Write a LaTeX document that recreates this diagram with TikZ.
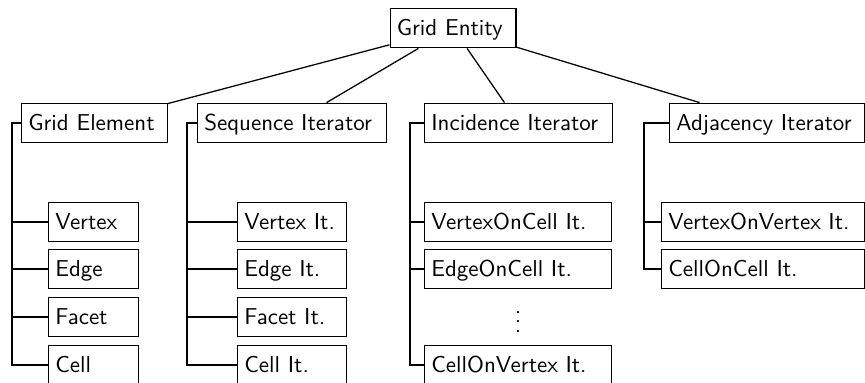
\documentclass[tikz,border=0pt]{standalone}
\usepackage{amsmath}
\newcommand\pu{0.435pt}
\tikzset{
  box/.style n args={1}{draw, line width=0.55pt, anchor=west, inner xsep=2.9pt, inner ysep=0pt,
    text width={#1*0.435pt-5.8pt-0.55pt}, align=left, minimum height=17.2pt,
    text height=9pt, text depth=2.2pt, font=\sffamily},
  link/.style={line width=0.55pt},
}
\begin{document}
\begin{tikzpicture}[x=\pu, y=-\pu]
  \useasboundingbox (0,0) rectangle (865,383);

  % root
  \node[box=127] (ent) at (389.5,28) {Grid Entity};

  % first level
  \node[box=147] (ge) at (21,123) {Grid Element};
  \node[box=190] (si) at (197,123) {Sequence Iterator};
  \node[box=189] (ii) at (424,123) {Incidence Iterator};
  \node[box=196] (ai) at (669,123) {Adjacency Iterator};

  \draw[link] (ent) -- (ge);
  \draw[link] (ent) -- (si);
  \draw[link] (ent) -- (ii);
  \draw[link] (ent) -- (ai);

  % grid elements
  \node[box=91] (ge1) at (48,222) {Vertex};
  \node[box=91] (ge2) at (48,269) {Edge};
  \node[box=91] (ge3) at (48,317) {Facet};
  \node[box=91] (ge4) at (48,365) {Cell};

  % sequence iterators
  \node[box=110] (si1) at (237,222) {Vertex It.};
  \node[box=110] (si2) at (237,269) {Edge It.};
  \node[box=110] (si3) at (237,317) {Facet It.};
  \node[box=110] (si4) at (237,365) {Cell It.};

  % incidence iterators
  \node[box=188] (ii1) at (424,222) {VertexOnCell It.};
  \node[box=188] (ii2) at (424,269) {EdgeOnCell It.};
  \node[font=\sffamily, inner sep=0pt] (iidots) at (518,315) {$\vdots$};
  \node[box=188] (ii4) at (424,365) {CellOnVertex It.};

  % adjacency iterators
  \node[box=204] (ai1) at (661,222) {VertexOnVertex It.};
  \node[box=204] (ai2) at (661,269) {CellOnCell It.};

  % rails
  \coordinate (geR) at (12,123);
  \coordinate (siR) at (187,123);
  \coordinate (iiR) at (410,123);
  \coordinate (aiR) at (644,123);

  \foreach \c in {ge1,ge2,ge3,ge4} \draw[link] (ge.west) -- (geR) |- (\c.west);
  \foreach \c in {si1,si2,si3,si4} \draw[link] (si.west) -- (siR) |- (\c.west);
  \foreach \c in {ii1,ii2,ii4} \draw[link] (ii.west) -- (iiR) |- (\c.west);
  \foreach \c in {ai1,ai2} \draw[link] (ai.west) -- (aiR) |- (\c.west);
\end{tikzpicture}
\end{document}
